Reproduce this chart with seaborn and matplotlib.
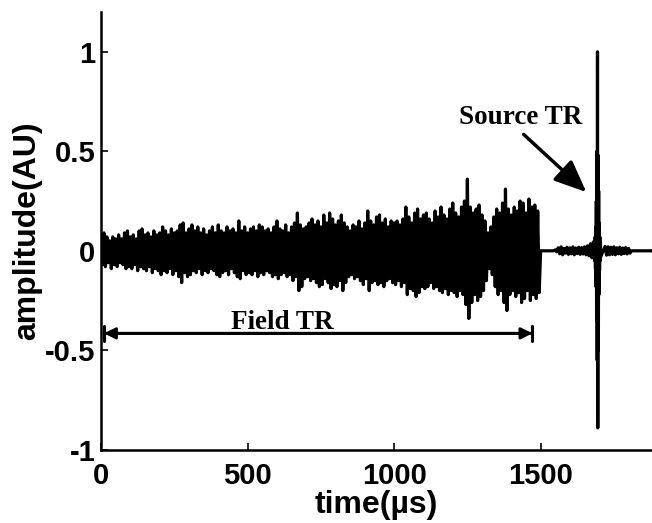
import numpy as np
import pandas as pd
import matplotlib
matplotlib.use("Agg")
import matplotlib.pyplot as plt
import seaborn as sns

# field TR record, 0-1500 us: positive / negative peak read every 10 us
field_upper = [
    0.06, 0.09, 0.07, 0.05, 0.07, 0.06, 0.08, 0.06, 0.09, 0.10,
    0.07, 0.08, 0.06, 0.10, 0.11, 0.08, 0.09, 0.07, 0.10, 0.08,
    0.09, 0.12, 0.10, 0.08, 0.11, 0.09, 0.10, 0.13, 0.14, 0.09,
    0.11, 0.13, 0.10, 0.12, 0.09, 0.11, 0.08, 0.10, 0.12, 0.09,
    0.13, 0.10, 0.09, 0.12, 0.10, 0.11, 0.09, 0.15, 0.10, 0.12,
    0.09, 0.11, 0.12, 0.10, 0.13, 0.12, 0.10, 0.11, 0.09, 0.12,
    0.15, 0.11, 0.10, 0.13, 0.09, 0.12, 0.14, 0.19, 0.13, 0.11,
    0.12, 0.14, 0.16, 0.13, 0.15, 0.12, 0.18, 0.14, 0.19, 0.16,
    0.13, 0.15, 0.18, 0.14, 0.12, 0.10, 0.13, 0.12, 0.15, 0.11,
    0.14, 0.20, 0.15, 0.13, 0.17, 0.18, 0.14, 0.16, 0.12, 0.15,
    0.14, 0.15, 0.13, 0.16, 0.22, 0.17, 0.14, 0.19, 0.21, 0.16,
    0.18, 0.19, 0.16, 0.14, 0.20, 0.17, 0.22, 0.18, 0.16, 0.21,
    0.24, 0.19, 0.17, 0.22, 0.25, 0.36, 0.22, 0.19, 0.21, 0.23,
    0.18, 0.15, 0.09, 0.12, 0.17, 0.21, 0.19, 0.24, 0.31, 0.21,
    0.18, 0.22, 0.20, 0.25, 0.24, 0.19, 0.26, 0.22, 0.23, 0.20,
]
field_lower = [
    0.07, 0.08, 0.06, 0.09, 0.07, 0.08, 0.06, 0.07, 0.09, 0.08,
    0.09, 0.07, 0.10, 0.08, 0.09, 0.10, 0.08, 0.11, 0.09, 0.10,
    0.12, 0.10, 0.11, 0.09, 0.12, 0.10, 0.13, 0.16, 0.11, 0.13,
    0.12, 0.10, 0.11, 0.09, 0.12, 0.10, 0.11, 0.09, 0.10, 0.12,
    0.13, 0.11, 0.10, 0.12, 0.09, 0.11, 0.13, 0.14, 0.10, 0.12,
    0.11, 0.12, 0.10, 0.13, 0.11, 0.12, 0.10, 0.11, 0.13, 0.12,
    0.14, 0.12, 0.11, 0.13, 0.12, 0.15, 0.13, 0.20, 0.18, 0.14,
    0.13, 0.15, 0.14, 0.16, 0.18, 0.17, 0.14, 0.16, 0.19, 0.17,
    0.18, 0.15, 0.20, 0.16, 0.13, 0.12, 0.14, 0.13, 0.15, 0.17,
    0.14, 0.20, 0.16, 0.15, 0.17, 0.16, 0.18, 0.15, 0.14, 0.16,
    0.17, 0.15, 0.18, 0.16, 0.22, 0.19, 0.20, 0.23, 0.21, 0.18,
    0.19, 0.18, 0.16, 0.19, 0.18, 0.20, 0.21, 0.19, 0.22, 0.20,
    0.21, 0.23, 0.20, 0.22, 0.27, 0.34, 0.26, 0.22, 0.25, 0.23,
    0.20, 0.15, 0.09, 0.12, 0.18, 0.22, 0.20, 0.26, 0.30, 0.22,
    0.20, 0.23, 0.21, 0.26, 0.24, 0.20, 0.25, 0.22, 0.24, 0.21,
]

# quiet part after 1500 us (peak every 10 us), source pulse excluded
tail_peak = [
    0.0, 0.0, 0.0, 0.0, 0.0, 0.005,
    0.015, 0.02, 0.012, 0.018, 0.015, 0.02, 0.014, 0.018, 0.016, 0.02,
    0.025, 0.035, 0.045, 0.045, 0.035, 0.028, 0.022, 0.02, 0.018, 0.02,
    0.015, 0.018, 0.014, 0.016, 0.012, 0.0, 0.0, 0.0, 0.0, 0.0,
    0.0, 0.0, 0.0,
]

# source TR pulse, 1 us steps
pulse_t = list(range(1684, 1706))
pulse_v = [0.04, -0.05, 0.07, -0.09, 0.12, -0.18, 0.25, -0.35, 0.5, -0.55,
           1.0, -0.89, 0.48, -0.5, 0.3, -0.22, 0.14, -0.1, 0.07, -0.05,
           0.04, -0.03]

t_field_start, t_tail_start, dt = 0, 1500, 10

# build the wiggle: positive peak, then negative peak half a step later
t, v = [], []
for i, (up, lo) in enumerate(zip(field_upper, field_lower)):
    t += [t_field_start + i * dt, t_field_start + i * dt + dt / 2]
    v += [up, -lo]
for i, pk in enumerate(tail_peak):
    ti = t_tail_start + i * dt
    if pulse_t[0] <= ti <= pulse_t[-1] + dt:
        if ti - dt < pulse_t[0]:
            t += pulse_t
            v += pulse_v
        continue
    t += [ti, ti + dt / 2]
    v += [pk, -pk]
t.append(1880)
v.append(0.0)

df = pd.DataFrame({"time": t, "amp": v})

sns.set_style("white")
plt.rcParams["text.color"] = "black"
plt.rcParams["xtick.color"] = "black"
plt.rcParams["ytick.color"] = "black"
plt.rcParams["axes.labelcolor"] = "black"

fig = plt.figure(figsize=(6.52, 5.23), dpi=100)
ax = fig.add_axes([0.155, 0.14, 0.845, 0.837])

sns.lineplot(data=df, x="time", y="amp", sort=False, estimator=None,
             color="black", linewidth=2.3, ax=ax)

ax.set_xlim(0, 1880)
ax.set_ylim(-1, 1.2)
ax.set_xticks([0, 500, 1000, 1500])
ax.set_yticks([-1, -0.5, 0, 0.5, 1])
ax.set_yticklabels(["-1", "-0.5", "0", "0.5", "1"])

for lab in ax.get_xticklabels() + ax.get_yticklabels():
    lab.set_fontfamily("Liberation Sans")
    lab.set_fontweight("bold")
    lab.set_fontsize(21)
ax.tick_params(direction="in", length=5, width=1.2, color="black",
               bottom=True, left=True)
ax.tick_params(axis="x", pad=9)
ax.tick_params(axis="y", pad=4)

label_font = dict(family="Liberation Sans", weight="bold", size=23)
ax.set_xlabel("time(µs)", fontdict=label_font, labelpad=0)
ax.set_ylabel("amplitude(AU)", fontdict=label_font, labelpad=2)

for s in ["top", "right"]:
    ax.spines[s].set_visible(False)
for s in ["left", "bottom"]:
    ax.spines[s].set_linewidth(1.8)
    ax.spines[s].set_color("black")

serif = dict(family="Liberation Serif", weight="bold", size=19.5)

# Field TR span
ax.annotate("", xy=(10, -0.415), xytext=(1472, -0.415),
            arrowprops=dict(arrowstyle="<|-|>", color="black", lw=2,
                            mutation_scale=17, shrinkA=0, shrinkB=0))
ax.annotate("", xy=(10, -0.415), xytext=(1472, -0.415),
            arrowprops=dict(arrowstyle="|-|, widthA=0.25, widthB=0.25",
                            color="black", lw=2.2, mutation_scale=22,
                            shrinkA=0, shrinkB=0))
ax.text(619, -0.36, "Field TR", ha="center", va="center", fontdict=serif)

# Source TR pointer
ax.text(1432, 0.67, "Source TR", ha="center", va="center", fontdict=serif)
ax.annotate("", xy=(1656, 0.295), xytext=(1442, 0.585),
            arrowprops=dict(arrowstyle="-|>, head_length=0.7, head_width=0.3",
                            color="black", lw=2.5, mutation_scale=28,
                            shrinkA=0, shrinkB=0))

fig.savefig("out.png", dpi=100)
